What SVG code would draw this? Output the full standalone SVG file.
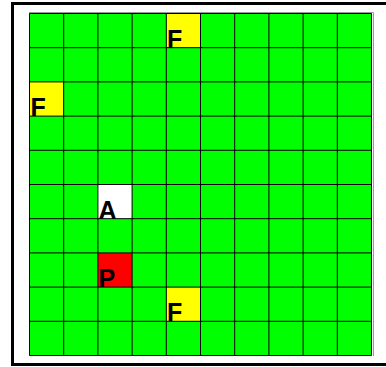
<svg xmlns="http://www.w3.org/2000/svg" width="386" height="367" viewBox="0 0 386 367">
<style>
.cell{stroke:#000;stroke-width:1}
.g{fill:#00ff00}
.y{fill:#ffff00}
.r{fill:#ff0000}
.w{fill:#ffffff}
.lbl{font-family:"Liberation Sans",Arial,sans-serif;font-weight:bold;font-size:25px;fill:#000}
</style>
<rect x="0" y="0" width="386" height="367" fill="#fff"/>
<rect id="frame" x="12.5" y="3.5" width="390" height="361" fill="none" stroke="#000" stroke-width="3"/>
<g id="board">
<rect x="29.5" y="13.5" width="342" height="342" class="g"/>
</g>
<g id="cells">
<rect id="cell-f1" x="166.3" y="13.5" width="34.2" height="34.2" class="y"/>
<rect id="cell-f2" x="29.5" y="81.9" width="34.2" height="34.2" class="y"/>
<rect id="cell-a" x="97.9" y="184.5" width="34.2" height="34.2" class="w"/>
<rect id="cell-p" x="97.9" y="252.9" width="34.2" height="34.2" class="r"/>
<rect id="cell-f3" x="166.3" y="287.1" width="34.2" height="34.2" class="y"/>
</g>
<g id="connectors" stroke="#000" stroke-width="1" fill="none">
<path d="M29.5 13.5V355.5M63.7 13.5V355.5M97.9 13.5V355.5M132.1 13.5V355.5M166.3 13.5V355.5M200.5 13.5V355.5M234.7 13.5V355.5M268.9 13.5V355.5M303.1 13.5V355.5M337.3 13.5V355.5M371.5 13.5V355.5"/>
<path d="M29.5 13.5H371.5M29.5 47.7H371.5M29.5 81.9H371.5M29.5 116.1H371.5M29.5 150.3H371.5M29.5 184.5H371.5M29.5 218.7H371.5M29.5 252.9H371.5M29.5 287.1H371.5M29.5 321.3H371.5M29.5 355.5H371.5"/>
<path d="M29 12.5H373.5V356" stroke="#999"/>
</g>
<g id="labels">
<text class="lbl" x="167" y="48">F</text>
<text class="lbl" x="30.5" y="116">F</text>
<text class="lbl" x="98.5" y="218.5">A</text>
<text class="lbl" x="98.5" y="287">P</text>
<text class="lbl" x="167" y="321.3">F</text>
</g>
</svg>
